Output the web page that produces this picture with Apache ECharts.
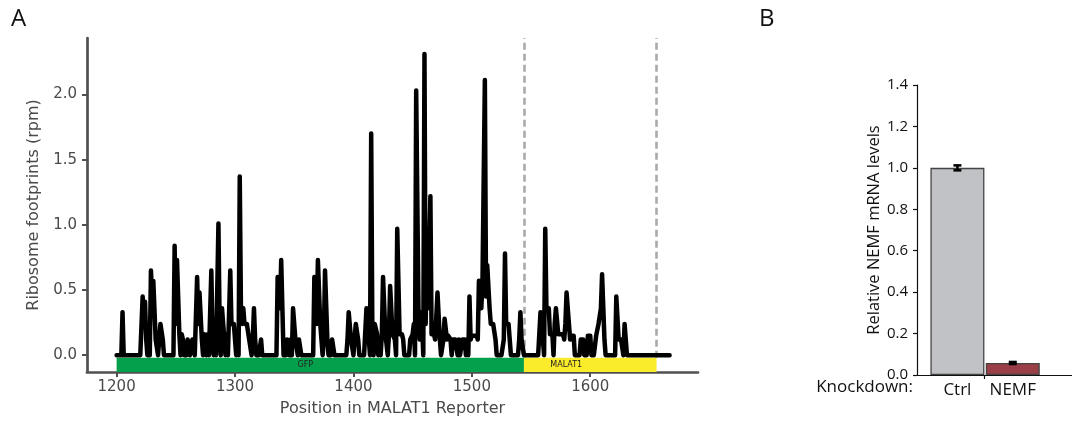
<!DOCTYPE html>
<html>
<head>
<meta charset="utf-8">
<script src="https://cdn.jsdelivr.net/npm/echarts@6/dist/echarts.min.js"></script>
<style>
  html, body { margin: 0; padding: 0; background: #fff; }
  #chart { width: 1072px; height: 422px; }
</style>
</head>
<body>
<div id="chart"></div>
<script>
// ---- Panel A: ribosome footprints along the reporter ----
// Positions (nt) with non-zero footprint density; every other position is 0.
const footprintPositions = [
  1205,
  1222, 1223, 1224, 1225, 1229, 1230, 1231, 1232, 1233, 1234, 1236, 1237, 1238, 1239,
  1249, 1250, 1251, 1252, 1253, 1255, 1256, 1260, 1261, 1264, 1265,
  1268, 1269, 1270, 1271, 1272, 1274, 1275, 1277, 1280, 1281, 1283, 1286, 1287, 1289, 1290, 1291, 1293,
  1296, 1297, 1298, 1299, 1300, 1302, 1304, 1305, 1306, 1307, 1308, 1309, 1310, 1311, 1312, 1313, 1315, 1316, 1317,
  1322, 1336, 1337, 1338, 1339, 1340, 1344, 1345, 1347, 1349, 1350, 1351, 1352, 1354, 1355,
  1367, 1368, 1369, 1370, 1371, 1372, 1373, 1375, 1376, 1377, 1378, 1382, 1383,
  1395, 1396, 1397, 1398, 1399, 1401, 1402, 1403, 1404,
  1411, 1412, 1413, 1415, 1416, 1418, 1419, 1420, 1422, 1424, 1425, 1426, 1427, 1428, 1430, 1431, 1432, 1433, 1434, 1435,
  1437, 1438, 1439, 1440, 1441, 1442, 1448, 1449, 1450, 1451, 1453, 1454, 1455, 1456, 1457, 1458,
  1460, 1461, 1462, 1463, 1464, 1465, 1466, 1467, 1468, 1469, 1470, 1471, 1472, 1473,
  1476, 1477, 1478, 1479, 1480, 1481, 1482, 1484, 1485, 1486, 1487, 1489, 1492, 1493, 1494, 1496,
  1498, 1499, 1500, 1501, 1502, 1503, 1504, 1505, 1506, 1507, 1508, 1509, 1510, 1511, 1512, 1513, 1514, 1515,
  1516, 1517, 1518, 1519, 1520, 1527, 1528, 1529, 1530, 1531, 1532, 1540, 1541, 1542, 1543,
  1558, 1559, 1560, 1562, 1563, 1564, 1565, 1566, 1567, 1568, 1570, 1571, 1572, 1573, 1574, 1575, 1576, 1577,
  1578, 1579, 1580, 1581, 1582, 1583, 1584, 1585, 1586, 1592, 1593, 1594, 1598, 1599, 1600,
  1605, 1606, 1607, 1608, 1609, 1610, 1611, 1612, 1622, 1623, 1624, 1625, 1626, 1627, 1629, 1630
];
const footprintValues = [
  0.33,
  0.45, 0.24, 0.41, 0.12, 0.65, 0.45, 0.57, 0.57, 0.12, 0.12, 0.12, 0.24, 0.24, 0.12,
  0.84, 0.24, 0.73, 0.73, 0.16, 0.16, 0.12, 0.12, 0.12, 0.12, 0.12,
  0.60, 0.24, 0.48, 0.48, 0.12, 0.16, 0.16, 0.16, 0.65, 0.16, 0.16, 1.01, 0.24, 0.36, 0.36, 0.12, 0.16,
  0.65, 0.24, 0.24, 0.24, 0.12, 0.12, 1.37, 0.36, 0.24, 0.36, 0.24, 0.24, 0.24, 0.24, 0.12, 0.12, 0.12, 0.36, 0.12,
  0.12, 0.60, 0.60, 0.36, 0.73, 0.73, 0.12, 0.12, 0.12, 0.36, 0.36, 0.12, 0.12, 0.12, 0.12,
  0.60, 0.60, 0.24, 0.73, 0.73, 0.24, 0.12, 0.12, 0.65, 0.65, 0.12, 0.12, 0.12,
  0.12, 0.33, 0.33, 0.12, 0.12, 0.12, 0.24, 0.24, 0.12,
  0.36, 0.36, 0.12, 1.70, 0.16, 0.24, 0.24, 0.16, 0.12, 0.16, 0.60, 0.60, 0.16, 0.16, 0.16, 0.53, 0.53, 0.16, 0.16, 0.12,
  0.97, 0.97, 0.16, 0.16, 0.16, 0.12, 0.12, 0.12, 0.16, 0.24, 2.03, 2.03, 0.30, 0.12, 0.33, 0.24,
  2.31, 0.24, 0.79, 0.36, 0.36, 1.22, 0.16, 0.16, 0.16, 0.12, 0.12, 0.48, 0.48, 0.12,
  0.12, 0.28, 0.28, 0.12, 0.15, 0.15, 0.12, 0.12, 0.12, 0.12, 0.12, 0.12, 0.12, 0.12, 0.12, 0.12,
  0.45, 0.12, 0.15, 0.15, 0.15, 0.15, 0.15, 0.12, 0.57, 0.57, 0.36, 0.57, 0.57, 2.11, 0.45, 0.69, 0.69, 0.36,
  0.24, 0.24, 0.24, 0.24, 0.12, 0.12, 0.78, 0.24, 0.24, 0.24, 0.12, 0.12, 0.33, 0.12, 0.12,
  0.33, 0.33, 0.12, 0.97, 0.36, 0.36, 0.36, 0.16, 0.16, 0.16, 0.24, 0.36, 0.36, 0.16, 0.16, 0.16, 0.16, 0.16,
  0.12, 0.24, 0.48, 0.48, 0.24, 0.12, 0.15, 0.15, 0.15, 0.12, 0.12, 0.12, 0.15, 0.15, 0.15,
  0.15, 0.15, 0.24, 0.24, 0.36, 0.62, 0.62, 0.12, 0.45, 0.45, 0.12, 0.12, 0.12, 0.12, 0.24, 0.24
];
const reporterStart = 1200;
const reporterEnd = 1667;

// Reporter features drawn as a strip under the profile
const featureNames = ['GFP', 'MALAT1'];
const featureStarts = [1200, 1544];
const featureEnds = [1544, 1656];
const featureColors = ['#05a04b', '#fbec2b'];
const featureLabelShift = [-15, -24];
// Region boundaries shown as dashed lines
const boundaryPositions = [1544, 1655.5];

const positionTicks = [1200, 1300, 1400, 1500, 1600];
const footprintTicks = [0, 0.5, 1.0, 1.5, 2.0];

// ---- Panel B: knockdown efficiency ----
const knockdownNames = ['Ctrl', 'NEMF'];
const relativeLevels = [1.0, 0.058];
const relativeErrors = [0.012, 0.005];
const barColors = ['#c1c2c6', '#9a3e47'];

// Per-nucleotide profile: zero where no footprints were mapped
const valueAt = {};
footprintPositions.forEach((p, i) => { valueAt[p] = footprintValues[i]; });
const profile = [];
for (let p = reporterStart; p <= reporterEnd; p++) profile.push([p, valueAt[p] || 0]);

const greyA = '#505050';
const textA = '#4a4a4a';
const fontA = 'DejaVu Sans';
const fontB = 'Open Sans';

const chart = echarts.init(document.getElementById('chart'), null, { renderer: 'canvas' });

chart.setOption({
  animation: false,
  backgroundColor: '#ffffff',
  graphic: [
    { type: 'text', left: 11, top: 7, style: { text: 'A', font: '24px "Open Sans"', fill: '#111' } },
    { type: 'text', left: 759, top: 7, style: { text: 'B', font: '24px "Open Sans"', fill: '#111' } },
    { type: 'text', right: 1072 - 913, top: 379, style: { text: 'Knockdown:', font: '17px "Open Sans"', fill: '#111', textAlign: 'right' } }
  ],
  grid: [
    { left: 87, top: 38, width: 611, height: 337 },
    { left: 917, top: 85, width: 155, height: 290 }
  ],
  xAxis: [
    {
      gridIndex: 0, type: 'value', min: 1175, max: 1691,
      name: 'Position in MALAT1 Reporter', nameLocation: 'middle', nameGap: 29,
      nameTextStyle: { fontFamily: fontA, fontSize: 16, color: textA },
      axisLine: { show: true, onZero: false, lineStyle: { color: greyA, width: 2.7 } },
      axisTick: { show: true, length: 5, customValues: positionTicks, lineStyle: { color: greyA, width: 2 } },
      axisLabel: { customValues: positionTicks, margin: 8, fontFamily: fontA, fontSize: 15, color: textA, formatter: v => String(v) },
      splitLine: { show: false }
    },
    {
      gridIndex: 1, type: 'value', min: -0.73, max: 2.07,
      axisLine: { show: true, onZero: false, lineStyle: { color: '#111', width: 1.2 } },
      axisTick: { show: true, length: 4, customValues: [0.48], lineStyle: { color: '#111', width: 1.2 } },
      axisLabel: {
        customValues: [0, 1], margin: 7, fontFamily: fontB, fontSize: 17, color: '#111',
        formatter: v => knockdownNames[Math.round(v)]
      },
      splitLine: { show: false }
    }
  ],
  yAxis: [
    {
      gridIndex: 0, type: 'value', min: -0.129, max: 2.433,
      name: 'Ribosome footprints (rpm)', nameLocation: 'middle', nameRotate: 90, nameGap: 37,
      nameTextStyle: { fontFamily: fontA, fontSize: 16, color: textA },
      axisLine: { show: true, onZero: false, lineStyle: { color: greyA, width: 2.7 } },
      axisTick: { show: true, length: 5, customValues: footprintTicks, lineStyle: { color: greyA, width: 2 } },
      axisLabel: { customValues: footprintTicks, margin: 10, fontFamily: fontA, fontSize: 15, color: textA, formatter: v => v.toFixed(1) },
      splitLine: { show: false }
    },
    {
      gridIndex: 1, type: 'value', min: 0, max: 1.4, interval: 0.2,
      name: 'Relative NEMF mRNA levels', nameLocation: 'middle', nameRotate: 90, nameGap: 33,
      nameTextStyle: { fontFamily: fontB, fontSize: 16.5, color: '#111' },
      axisLine: { show: true, onZero: false, lineStyle: { color: '#111', width: 1.2 } },
      axisTick: { show: true, length: 4, lineStyle: { color: '#111', width: 1.2 } },
      axisLabel: { margin: 9, fontFamily: fontB, fontSize: 15, color: '#111', formatter: v => v.toFixed(1) },
      splitLine: { show: false }
    }
  ],
  series: [
    {
      type: 'line', xAxisIndex: 0, yAxisIndex: 0, z: 3,
      data: profile, showSymbol: false, symbol: 'none',
      lineStyle: { color: '#000', width: 4.5, cap: 'round', join: 'round' },
      markArea: {
        silent: true,
        data: featureNames.map((n, i) => [
          {
            name: n, coord: [featureStarts[i], -0.129],
            itemStyle: { color: featureColors[i], opacity: 1 },
            label: { show: true, position: 'inside', offset: [featureLabelShift[i], 0], fontFamily: fontA, fontSize: 8, color: '#222' }
          },
          { coord: [featureEnds[i], -0.02] }
        ])
      },
      markLine: {
        silent: true, symbol: 'none', z: 1,
        lineStyle: { color: '#aaaaaa', width: 2.6, type: [7, 4] },
        label: { show: false },
        data: boundaryPositions.map(x => [{ coord: [x, -0.02] }, { coord: [x, 2.433] }])
      }
    },
    {
      type: 'bar', xAxisIndex: 1, yAxisIndex: 1, barWidth: 54,
      data: relativeLevels.map((v, i) => ({
        value: [i, v],
        itemStyle: { color: barColors[i], borderColor: '#444', borderWidth: 1.3 }
      }))
    },
    {
      // error bars (mean ± error) on top of the bars
      type: 'custom', xAxisIndex: 1, yAxisIndex: 1, z: 5,
      data: relativeLevels.map((v, i) => [i, v]),
      renderItem: (params, api) => {
        const i = params.dataIndex;
        const lo = api.coord([i, relativeLevels[i] - relativeErrors[i]]);
        const hi = api.coord([i, relativeLevels[i] + relativeErrors[i]]);
        const half = 4;
        const st = { stroke: '#000', lineWidth: 2.5 };
        return {
          type: 'group',
          children: [
            { type: 'line', shape: { x1: lo[0], y1: lo[1], x2: hi[0], y2: hi[1] }, style: st },
            { type: 'line', shape: { x1: lo[0] - half, y1: lo[1], x2: lo[0] + half, y2: lo[1] }, style: st },
            { type: 'line', shape: { x1: hi[0] - half, y1: hi[1], x2: hi[0] + half, y2: hi[1] }, style: st }
          ]
        };
      }
    }
  ]
});
</script>
</body>
</html>
